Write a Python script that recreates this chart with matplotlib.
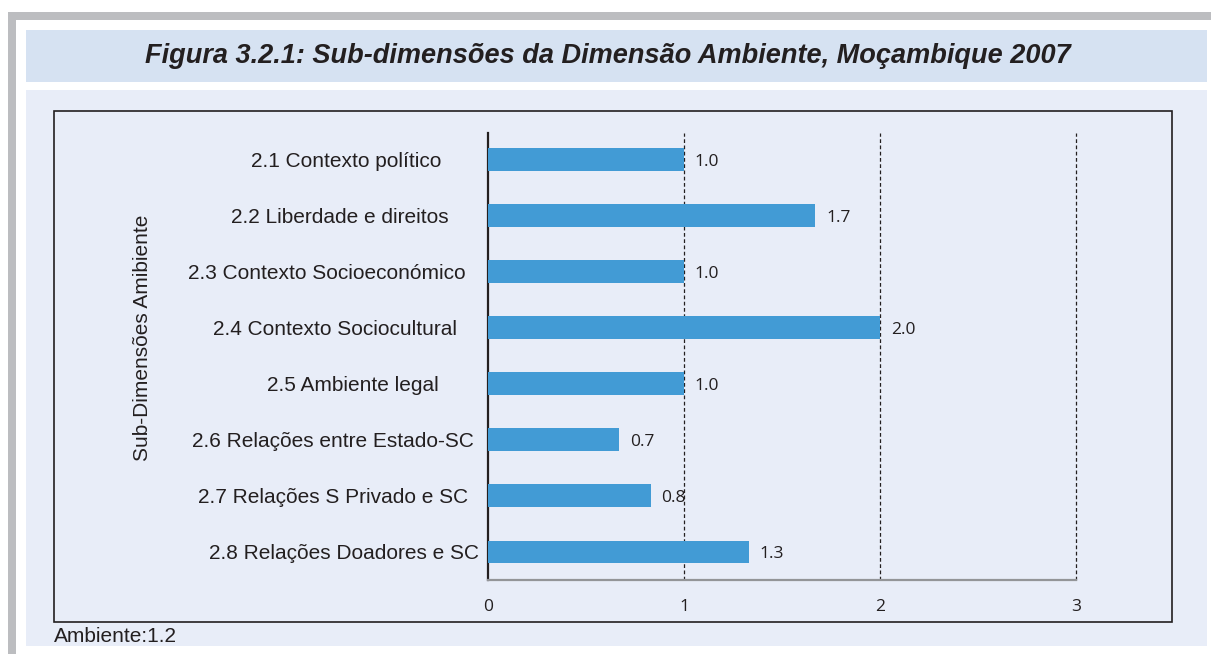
import matplotlib
matplotlib.use("Agg")
import matplotlib.pyplot as plt
from matplotlib.patches import Rectangle

categories = ["2.1 Contexto político", "2.2 Liberdade e direitos", "2.3 Contexto Socioeconómico",
              "2.4 Contexto Sociocultural", "2.5 Ambiente legal", "2.6 Relações entre Estado-SC",
              "2.7 Relações S Privado e SC", "2.8 Relações Doadores e SC"]
values = [1.0, 1.67, 1.0, 2.0, 1.0, 0.67, 0.83, 1.33]
value_labels = ["1.0", "1.7", "1.0", "2.0", "1.0", "0.7", "0.8", "1.3"]
xticks = [0, 1, 2, 3]
title = "Figura 3.2.1: Sub-dimensões da Dimensão Ambiente, Moçambique 2007"
ylabel = "Sub-Dimensões Amibiente"
footer = "Ambiente:1.2"

# layout: horizontal centre (pixels) of each category label, as in the reference
label_centres_px = [346, 340, 327, 335, 353, 333, 333, 344]

W, H = 1211, 654
fig = plt.figure(figsize=(W / 100, H / 100), dpi=100)
fig.patch.set_facecolor("white")

def rect(x0, y0, x1, y1, **kw):
    r = Rectangle((x0 / W, 1 - y1 / H), (x1 - x0) / W, (y1 - y0) / H,
                  transform=fig.transFigure, zorder=-5, **kw)
    fig.patches.append(r)
    return r

# gray frame
rect(8, 12, W, 20, facecolor="#bcbdc0", edgecolor="none")
rect(8, 12, 16, H, facecolor="#bcbdc0", edgecolor="none")
# title band
rect(26, 30, 1207, 82, facecolor="#d6e2f2", edgecolor="none")
# lower panel
rect(26, 90, 1207, 646, facecolor="#e8edf8", edgecolor="none")
# inner box
rect(54, 111, 1172, 622, facecolor="none", edgecolor="#231f20", linewidth=1.2)

fig.text(608 / W, 1 - 56 / H, title, ha="center", va="center",
         fontsize=19.5, fontweight="bold", fontstyle="italic",
         family="Liberation Sans", color="#231f20")

AX_L, AX_R = 488, 1076
ax = fig.add_axes([AX_L / W, 1 - 580 / H, (AX_R - AX_L) / W, (580 - 133) / H])
ax.set_facecolor("none")
ypos = list(range(len(categories)))
ax.barh(ypos, values, height=0.41, color="#429bd5", zorder=3)
ax.set_xlim(0, 3)
ax.set_ylim(7.5, -0.48)
for y, v, lab in zip(ypos, values, value_labels):
    ax.text(v + 0.055, y + 0.04, lab, ha="left", va="center", fontsize=12.5,
            family="Open Sans", color="#231f20", zorder=4)

for x in xticks[1:]:
    ax.axvline(x, color="#231f20", linestyle=(0, (3, 2)), linewidth=0.9, zorder=2,
               clip_on=False)

for s in ["top", "right"]:
    ax.spines[s].set_visible(False)
ax.spines["left"].set_color("#231f20")
ax.spines["left"].set_linewidth(1.6)
ax.spines["bottom"].set_color("#939598")
ax.spines["bottom"].set_linewidth(1.6)

ax.set_xticks(xticks)
ax.set_xticklabels([str(t) for t in xticks], family="Open Sans", fontsize=12.5, color="#231f20")
ax.tick_params(axis="x", length=0, pad=14)
ax.set_yticks([])

px_per_unit = (AX_R - AX_L) / 3
for y, c, cx in zip(ypos, categories, label_centres_px):
    ax.text((cx - AX_L) / px_per_unit, y + 0.03, c, ha="center", va="center", fontsize=15,
            family="Liberation Sans", color="#231f20")

fig.text(143 / W, 1 - 338 / H, ylabel, rotation=90, ha="center", va="center",
         fontsize=15, family="Liberation Sans", color="#231f20")
fig.text(54 / W, 1 - 637 / H, footer, ha="left", va="center",
         fontsize=15, family="Liberation Sans", color="#231f20")

fig.savefig("out.png", dpi=100, facecolor=fig.get_facecolor())
